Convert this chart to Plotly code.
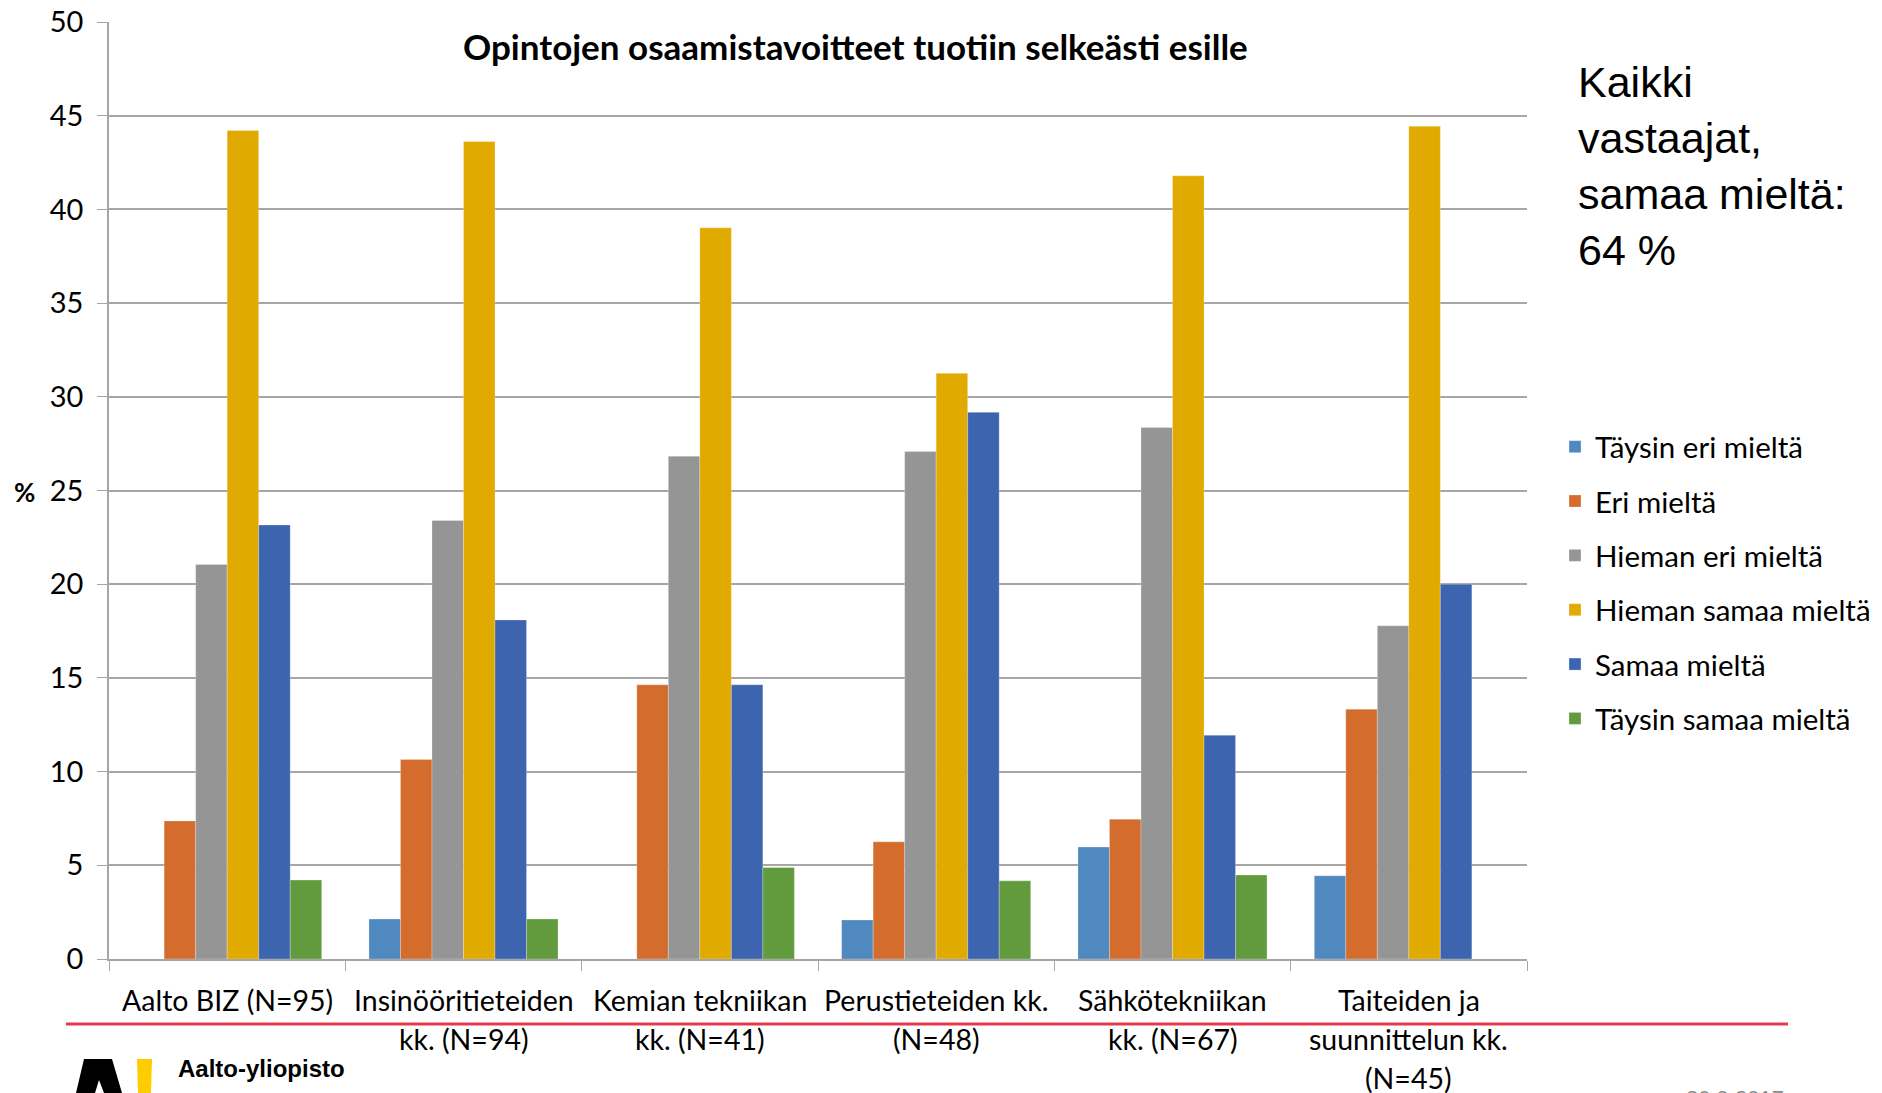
import plotly.graph_objects as go

# kategoriat (x-akseli), rivit eroteltu "|"
categories = [
    "Aalto BIZ (N=95)",
    "Insinööritieteiden|kk. (N=94)",
    "Kemian tekniikan|kk. (N=41)",
    "Perustieteiden kk.|(N=48)",
    "Sähkötekniikan|kk. (N=67)",
    "Taiteiden ja|suunnittelun kk.|(N=45)",
]

series_names = [
    "Täysin eri mieltä",
    "Eri mieltä",
    "Hieman eri mieltä",
    "Hieman samaa mieltä",
    "Samaa mieltä",
    "Täysin samaa mieltä",
]

taysin_eri = [0, 2.13, 0, 2.08, 5.97, 4.44]
eri = [7.37, 10.64, 14.63, 6.25, 7.46, 13.33]
hieman_eri = [21.05, 23.40, 26.83, 27.08, 28.36, 17.78]
hieman_samaa = [44.21, 43.62, 39.02, 31.25, 41.79, 44.44]
samaa = [23.16, 18.09, 14.63, 29.17, 11.94, 20.00]
taysin_samaa = [4.21, 2.13, 4.88, 4.17, 4.48, 0]

values = [taysin_eri, eri, hieman_eri, hieman_samaa, samaa, taysin_samaa]

y_ticks = [0, 5, 10, 15, 20, 25, 30, 35, 40, 45, 50]

colors = ["#4F89BF", "#D36C2C", "#959595", "#E1AA00", "#3D64AE", "#629B3E"]

OFF = 8  # sivun oletusmarginaali
W, H = 1882 - OFF, 1093 - OFF
L, R, T, B = 101, 355, 14, 134
PW, PH = W - L - R, H - T - B


def px(x, y):
    # sivun pikselit -> paper-koordinaatit
    return (x - OFF - L) / PW, (H - B - (y - OFF)) / PH


fig = go.Figure()
for i, name in enumerate(series_names):
    fig.add_trace(go.Bar(
        name=name, x=categories, y=values[i],
        marker_color=colors[i],
        marker_line=dict(color="rgba(255,255,255,0.5)", width=0.5),
        legendgroup=name,
    ))

fig.update_layout(
    width=W, height=H,
    margin=dict(l=L, r=R, t=T, b=B, pad=0, autoexpand=False),
    font=dict(family="Lato", color="#000000"),
    paper_bgcolor="white", plot_bgcolor="white",
    barmode="group", bargap=0.2, bargroupgap=0,
    showlegend=True,
    legend=dict(
        x=px(1555, 0)[0], y=px(0, 421)[1], xanchor="left", yanchor="top",
        font=dict(size=29.5, family="Lato"),
        tracegroupgap=13, itemclick=False,
    ),
)

fig.update_yaxes(
    range=[0, 50], tickvals=y_ticks, ticks="outside", ticklen=10,
    tickcolor="#A6A6A6", showline=True, linecolor="#A6A6A6", linewidth=1.5,
    showgrid=True, gridcolor="#A6A6A6", gridwidth=1.5,
    tickfont=dict(size=29, family="Lato"), zeroline=False,
    ticklabelstandoff=8, automargin=False, ticklabeloverflow="allow",
)
fig.update_xaxes(
    ticks="outside", ticklen=10, tickson="boundaries", tickcolor="#A6A6A6",
    showline=True, linecolor="#A6A6A6", linewidth=1.5,
    showticklabels=False, automargin=False,
)

# kategorioiden nimet rivi kerrallaan
line_y = [1000, 1039, 1078]
for cat in categories:
    for j, line in enumerate(cat.split("|")):
        fig.add_annotation(text=line, x=cat, xref="x", y=px(0, line_y[j])[1], yref="paper",
                           showarrow=False, xanchor="center", yanchor="middle",
                           font=dict(size=28.5, family="Lato"))

# otsikko
tx, ty = px(856, 46)
fig.add_annotation(text="<b>Opintojen osaamistavoitteet tuotiin selkeästi esille</b>",
                   x=tx, y=ty, xref="paper", yref="paper", showarrow=False,
                   font=dict(size=35, family="Lato"), xanchor="center", yanchor="middle")

# y-akselin yksikkö
tx, ty = px(24, 492)
fig.add_annotation(text="<b>%</b>", x=tx, y=ty, xref="paper", yref="paper",
                   showarrow=False, font=dict(size=26, family="Lato"),
                   xanchor="center", yanchor="middle")

# kaikki vastaajat
tx, ty = px(1576, 56)
fig.add_annotation(text="Kaikki<br>vastaajat,<br>samaa mieltä:<br>64 %",
                   x=tx, y=ty, xref="paper", yref="paper", showarrow=False,
                   align="left", xanchor="left", yanchor="top",
                   font=dict(size=43, family="Liberation Sans"))

# punainen viiva
x0, y0 = px(66, 1024)
x1, _ = px(1788, 1024)
fig.add_shape(type="line", xref="paper", yref="paper", x0=x0, x1=x1, y0=y0, y1=y0,
              line=dict(color="#E8384B", width=3))

# logo
pts = [(76, 1093), (84, 1059), (112, 1059), (122, 1093), (104, 1093), (99, 1080), (95, 1093)]
path = "M " + " L ".join(f"{px(a, b)[0]},{px(a, b)[1]}" for a, b in pts) + " Z"
fig.add_shape(type="path", xref="paper", yref="paper", path=path,
              fillcolor="black", line=dict(width=0))
pts = [(137, 1059), (152, 1059), (151, 1093), (138, 1093)]
path = "M " + " L ".join(f"{px(a, b)[0]},{px(a, b)[1]}" for a, b in pts) + " Z"
fig.add_shape(type="path", xref="paper", yref="paper", path=path,
              fillcolor="#FFCC00", line=dict(width=0))
tx, ty = px(176, 1068)
fig.add_annotation(text="<b>Aalto-yliopisto</b>", x=tx, y=ty, xref="paper", yref="paper",
                   showarrow=False, xanchor="left", yanchor="middle",
                   font=dict(size=24, family="Liberation Sans"))

# päivämäärä (leikkautuu alareunaan kuten alkuperäisessä)
tx, ty = px(1735, 1084)
fig.add_annotation(text="20.9.2017", x=tx, y=ty, xref="paper", yref="paper",
                   showarrow=False, xanchor="center", yanchor="top",
                   font=dict(size=22, family="Liberation Sans", color="#8C8C8C"))

fig.write_html("out.html")
